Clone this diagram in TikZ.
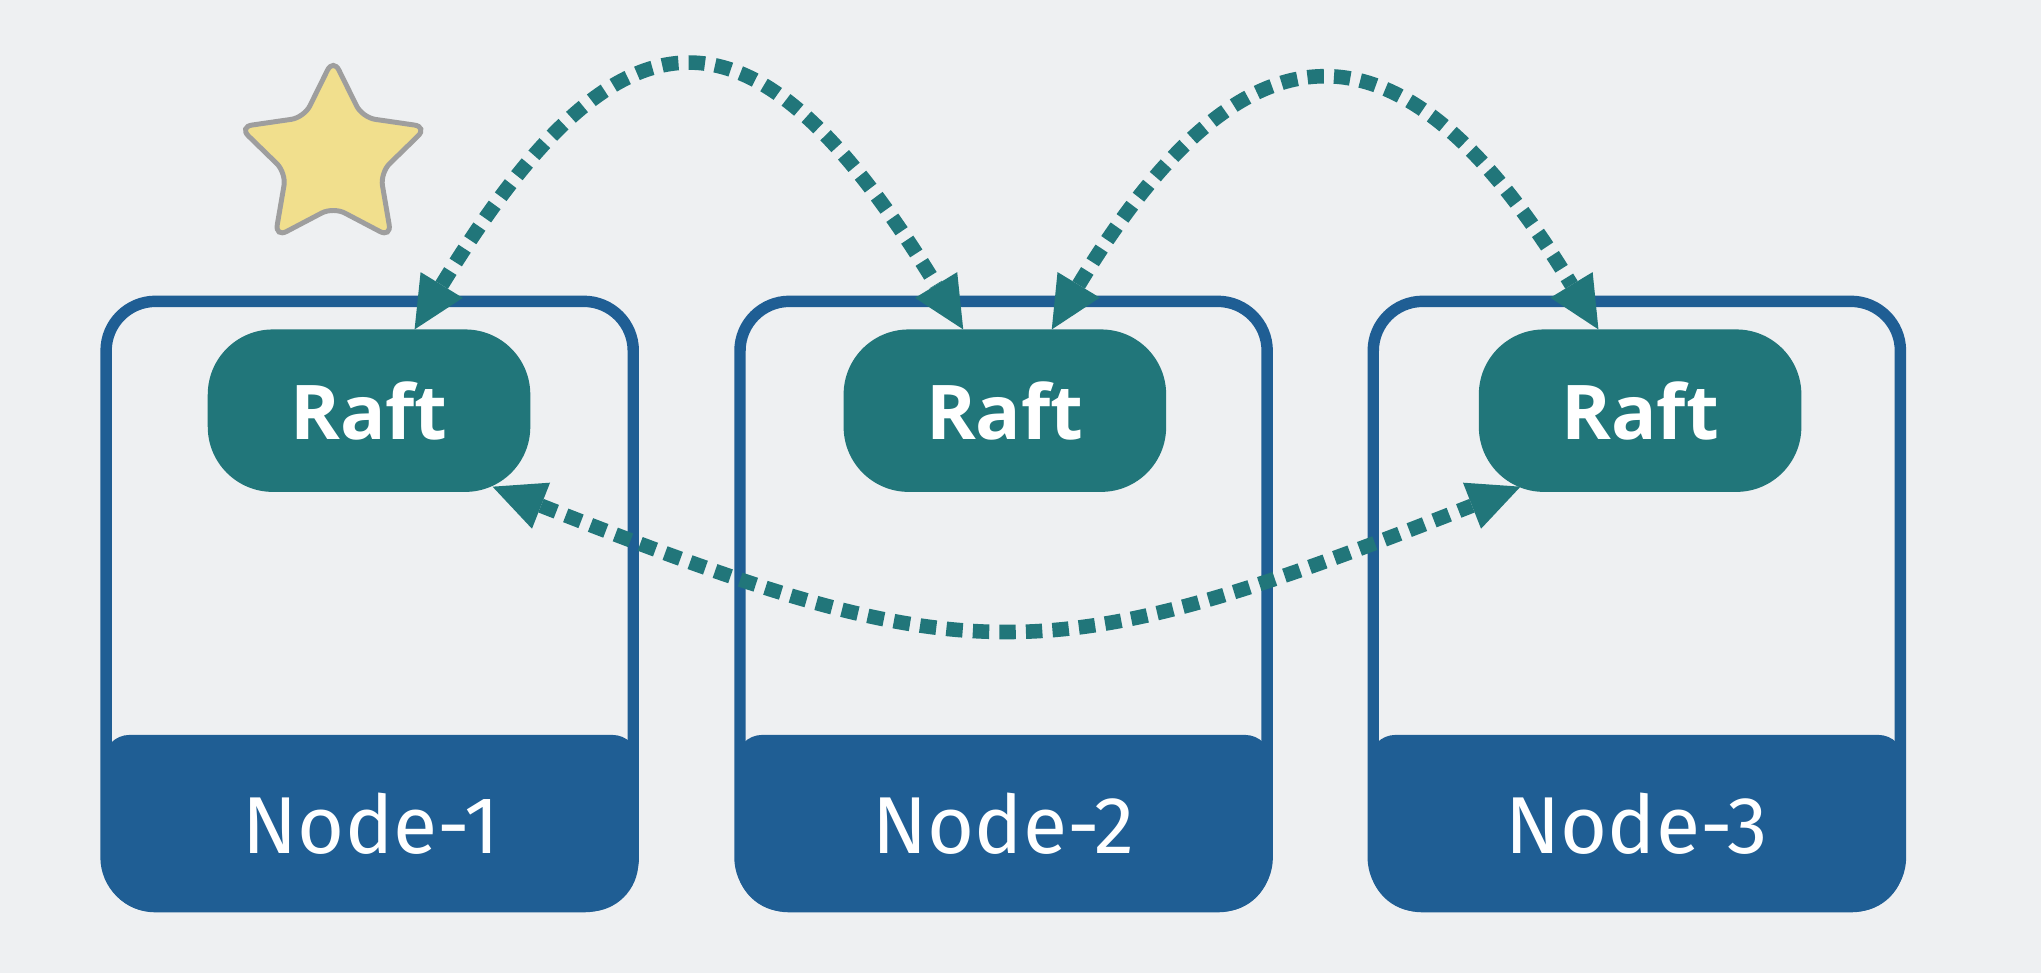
\documentclass[tikz,border=0pt]{standalone}
\usepackage{fontspec}
\setmainfont{Open Sans}
\newfontfamily\nodefont{Fira Sans}
\usetikzlibrary{arrows.meta,shapes.geometric,calc}
\definecolor{bg}{HTML}{EEF0F2}
\definecolor{boxblue}{HTML}{1F5E94}
\definecolor{tealx}{HTML}{21767A}
\definecolor{staryellow}{HTML}{F1DF8D}
\definecolor{stargray}{HTML}{9E9E9E}
\pgfdeclarelayer{bglayer}
\pgfdeclarelayer{backlayer}
\pgfsetlayers{bglayer,backlayer,main}
\newcommand\raftfill[1]{%
  \fill[tealx] ([xshift=25pt]#1.north west) -- ([xshift=-25pt]#1.north east)
    arc[start angle=90,end angle=0,x radius=25pt,y radius=25pt]
    -- ([yshift=25pt]#1.south east)
    arc[start angle=0,end angle=-90,x radius=25pt,y radius=25pt]
    -- ([xshift=25pt]#1.south west)
    arc[start angle=270,end angle=180,x radius=25pt,y radius=25pt]
    -- ([yshift=-25pt]#1.north west)
    arc[start angle=180,end angle=90,x radius=25pt,y radius=25pt] -- cycle;}
\newcommand\bandfill[1]{%
  \fill[boxblue] ([yshift=-10pt]#1.north west) arc[start angle=180,end angle=90,radius=10pt]
    -- ([xshift=-10pt]#1.north east) arc[start angle=90,end angle=0,radius=10pt]
    -- ([yshift=19pt]#1.south east) arc[start angle=0,end angle=-90,radius=19pt]
    -- ([xshift=19pt]#1.south west) arc[start angle=270,end angle=180,radius=19pt] -- cycle;}
\begin{document}
\begin{tikzpicture}[x=0.5pt,y=-0.5pt,
  container/.style={draw=boxblue, line width=4.4pt, rounded corners=19pt,
    minimum width=202.5pt, minimum height=232.5pt, inner sep=0pt},
  band/.style={minimum width=205pt, minimum height=67.5pt, inner sep=0pt, text=white,
    font=\nodefont\fontsize{31}{31}\selectfont},
  raft/.style={minimum width=123.5pt, minimum height=62pt, inner sep=0pt, text=white,
    font=\bfseries\fontsize{29}{29}\selectfont},
  tipx/.tip={Triangle[length=20pt,width=19pt,line width=0pt]},
  link/.style={draw=tealx, line width=5.6pt, dash pattern=on 6.3pt off 3.9pt, tipx-tipx},
]
\begin{pgfonlayer}{bglayer}
\fill[bg] (0,0) rectangle (1568,747.5);
\end{pgfonlayer}
\useasboundingbox (0,0) rectangle (1568,747.5);

% containers
\node[container] (c1) at (284,464) {};
\node[container] (c2) at (771,464) {};
\node[container] (c3) at (1257.5,464) {};

% bottom bands
\node[band] (n1) at (285,632.5) {Node-1};
\node[band] (n2) at (771,632.5) {Node-2};
\node[band] (n3) at (1257.5,632.5) {Node-3};

% raft boxes
\node[raft] (r1) at (283.5,315.5) {Raft};
\node[raft] (r2) at (772,315.5) {Raft};
\node[raft] (r3) at (1260,315.5) {Raft};

\begin{pgfonlayer}{backlayer}
\bandfill{n1}\bandfill{n2}\bandfill{n3}
\raftfill{r1}\raftfill{r2}\raftfill{r3}
\end{pgfonlayer}

% star
\node[star, star points=5, star point ratio=2.0, minimum size=76pt, inner sep=0pt,
  fill=staryellow, draw=stargray, line width=1.9pt, rounded corners=5pt] (star) at (256,121) {};

% links
\draw[link] ($(r1.north)+(35,0)$) .. controls +(160,-262) and +(-160,-262) .. ($(r2.north)+(-32,0)$);
\draw[link] ($(r2.north)+(36,0)$) .. controls +(150,-248) and +(-150,-248) .. ($(r3.north)+(-32,0)$);
\draw[link] ($(r1.south east)+(-29,-4)$) .. controls +(367,144) and +(-367,144) .. ($(r3.south west)+(32,-4)$);
\end{tikzpicture}
\end{document}
